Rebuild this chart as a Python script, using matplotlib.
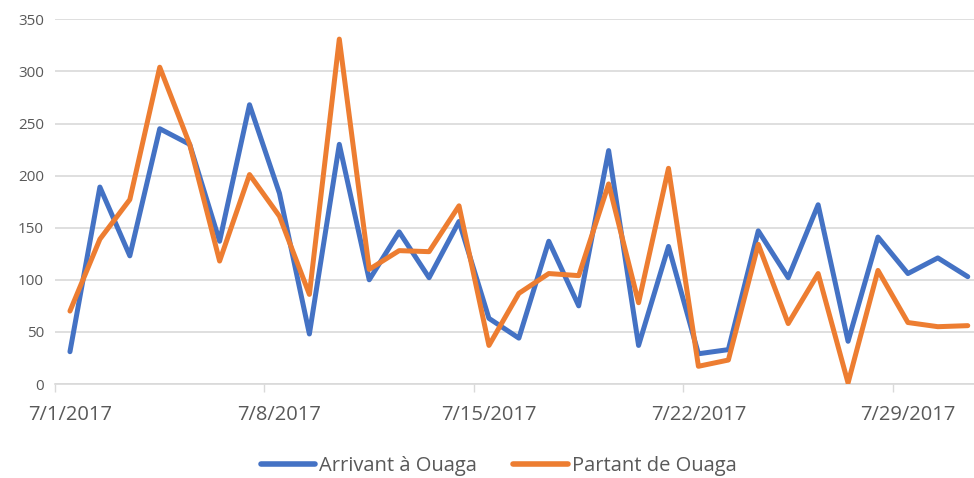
import numpy as np
import matplotlib
matplotlib.use("Agg")
import matplotlib.pyplot as plt

### data ###
dates = np.arange(np.datetime64('2017-07-01'), np.datetime64('2017-08-01'))
arrivant = [31, 189, 123, 245, 230, 137, 268, 183, 48, 230, 100,
            146, 102, 156, 63, 44, 137, 75, 224, 37, 132,
            29, 33, 147, 102, 172, 41, 141, 106, 121, 103]
partant = [70, 139, 177, 304, 230, 118, 201, 161, 86, 331, 110,
           128, 127, 171, 37, 87, 106, 104, 192, 78, 207,
           17, 23, 134, 58, 106, 1, 109, 59, 55, 56]
tick_dates = dates[::7]
tick_labels = ['7/1/2017', '7/8/2017', '7/15/2017', '7/22/2017', '7/29/2017']

plt.rcParams['font.family'] = ['Open Sans', 'DejaVu Sans']

fig = plt.figure(figsize=(9.74, 4.78), dpi=100)
ax = fig.add_axes([55/974, 1-384/478, 1-55/974, (384-19.3)/478])

ax.plot(dates, arrivant, color='#4472C4', lw=3.6, solid_joinstyle='round',
        solid_capstyle='round', label='Arrivant à Ouaga', zorder=3)
ax.plot(dates, partant, color='#ED7D31', lw=3.6, solid_joinstyle='round',
        solid_capstyle='round', label='Partant de Ouaga', zorder=3)

ax.set_ylim(0, 350)
ax.set_yticks(np.arange(0, 351, 50))
half = np.timedelta64(12, 'h')
ax.set_xlim(dates[0] - half, dates[0] - half + np.timedelta64(int(919/29.9*24), 'h'))

ax.set_xticks(tick_dates)
ax.set_xticklabels(tick_labels)
ax.set_xticks(tick_dates - half, minor=True)
ax.tick_params(axis='x', which='major', length=0, pad=15, labelsize=14.5, colors='#595959')
ax.tick_params(axis='x', which='minor', length=6, width=1, color='#D9D9D9')
ax.tick_params(axis='y', length=0, pad=8, labelsize=11, colors='#595959')

ax.grid(axis='y', color='#D9D9D9', lw=1.2)
ax.set_axisbelow(True)
for s in ['top', 'right', 'left']:
    ax.spines[s].set_visible(False)
ax.spines['bottom'].set_color('#D9D9D9')
ax.spines['bottom'].set_linewidth(1.2)

leg = fig.legend(loc='center', bbox_to_anchor=(0.512, 0.025), ncol=2, frameon=False,
                 fontsize=14.5, handlelength=2.7, handletextpad=0.2, columnspacing=1.8,
                 borderpad=0)
for t in leg.get_texts():
    t.set_color('#595959')
for h in leg.get_lines():
    h.set_linewidth(4)

fig.savefig('out.png', dpi=100)
